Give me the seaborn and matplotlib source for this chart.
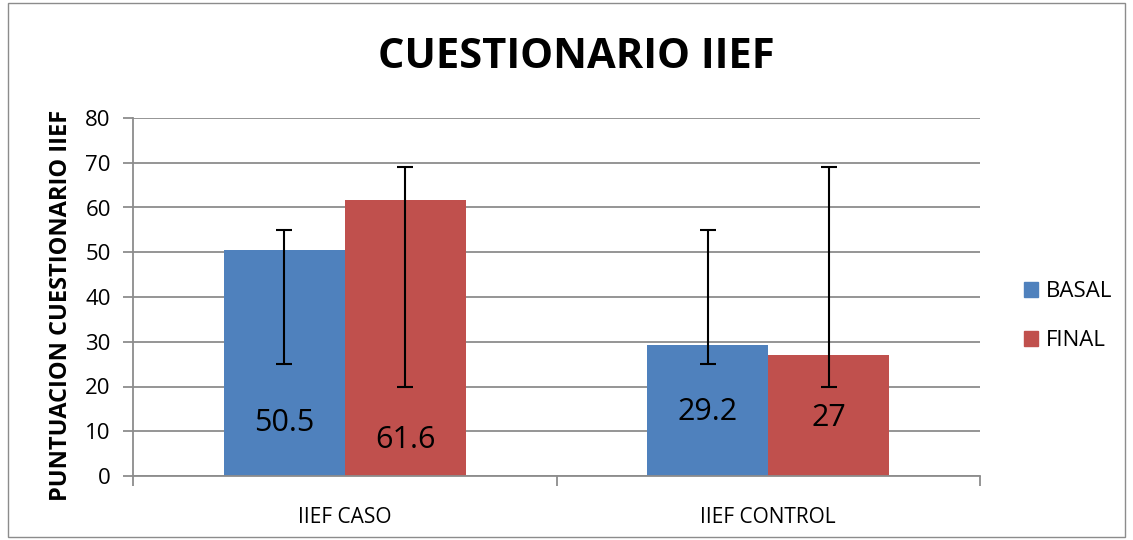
import matplotlib
matplotlib.use("Agg")
import matplotlib.pyplot as plt
import seaborn as sns
import pandas as pd
import numpy as np
from matplotlib.patches import Rectangle

categories = ["IIEF CASO", "IIEF CONTROL"]
series = ["BASAL", "FINAL"]
basal_values = [50.5, 29.2]
final_values = [61.6, 27]
basal_err_low = [25, 25]
basal_err_high = [55, 55]
final_err_low = [20, 20]
final_err_high = [69, 69]
value_labels_basal = ["50.5", "29.2"]
value_labels_final = ["61.6", "27"]

sns.set_theme(style="white")
plt.rcParams['font.family'] = ['Open Sans', 'DejaVu Sans']
plt.rcParams['text.color'] = 'black'
plt.rcParams['axes.labelcolor'] = 'black'
plt.rcParams['xtick.color'] = 'black'
plt.rcParams['ytick.color'] = 'black'

df = pd.DataFrame({
    "cat": categories * 2,
    "serie": [series[0]] * 2 + [series[1]] * 2,
    "val": basal_values + final_values,
})

fig = plt.figure(figsize=(11.33, 5.4), dpi=100)
ax = fig.add_axes([133 / 1133, 1 - 476 / 540, (980 - 133) / 1133, (476 - 118) / 540])

palette = {"BASAL": "#4F81BD", "FINAL": "#C0504D"}
sns.barplot(data=df, x="cat", y="val", hue="serie", palette=palette, width=0.572,
            gap=0, saturation=1, ax=ax, legend=False, linewidth=0)

ax.set_xlim(-0.5, 1.5)
ax.set_ylim(0, 80)
ax.set_yticks(np.arange(0, 81, 10))
ax.yaxis.grid(True, color="#8C8C8C", linewidth=1.3)
ax.set_axisbelow(True)

bars = ax.patches
labels_all = value_labels_basal + value_labels_final
lows = basal_err_low + final_err_low
highs = basal_err_high + final_err_high
label_pos = [11.8, 14.3, 8.0, 13.0]
for i, p in enumerate(bars[:4]):
    xc = p.get_x() + p.get_width() / 2
    ax.errorbar([xc], [(lows[i] + highs[i]) / 2], yerr=[[(highs[i] - lows[i]) / 2]],
                fmt="none", ecolor="black", elinewidth=1.5, capsize=6, capthick=1.5)
    ax.text(xc, label_pos[i], labels_all[i], ha="center", va="center", fontsize=22, color="black")

for s in ["top", "right"]:
    ax.spines[s].set_visible(False)
for s in ["left", "bottom"]:
    ax.spines[s].set_color("#8C8C8C")
    ax.spines[s].set_linewidth(1.3)

ax.set_xticks([-0.5, 0.5, 1.5], minor=False)
ax.set_xticklabels([])
ax.set_xticks([0, 1], minor=True)
ax.set_xticklabels(categories, minor=True, fontsize=15)
ax.tick_params(axis="x", which="major", length=7, color="#8C8C8C", width=1.3, bottom=True, direction="out")
ax.tick_params(axis="x", which="minor", length=0, pad=22)
ax.tick_params(axis="y", length=7, color="#8C8C8C", width=1.3, left=True, direction="out", labelsize=16, pad=9)
ax.set_xlabel("")
ax.set_ylabel("PUNTUACION CUESTIONARIO IIEF", fontsize=17, fontweight="bold")
ax.yaxis.set_label_coords((73 - 133) / 847, 0.478)

fig.text(576 / 1133, 1 - 58 / 540, "CUESTIONARIO IIEF", ha="center", va="center",
         fontsize=30, fontweight="bold")

handles = [Rectangle((0, 0), 1, 1, color=palette[s]) for s in series]
fig.legend(handles, series, loc="center left", bbox_to_anchor=(1004 / 1133, 1 - 316 / 540),
           frameon=False, fontsize=16, handlelength=0.65, handleheight=0.65, labelspacing=1.25,
           handletextpad=0.35)

fig.patches.append(Rectangle((8 / 1133, 0.005), 1 - 16 / 1133, 0.99, transform=fig.transFigure,
                             fill=False, edgecolor="#8C8C8C", linewidth=1))

fig.savefig("out.png", dpi=100)
